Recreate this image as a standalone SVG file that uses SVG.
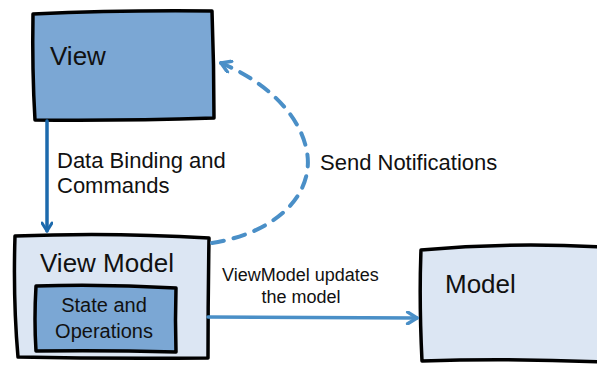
<svg xmlns="http://www.w3.org/2000/svg" width="597" height="365" viewBox="0 0 597 365">
<style>
.box{stroke:#000;stroke-width:3.5;stroke-linejoin:round}
.dark{fill:#7ba7d4}
.light{fill:#dce6f3}
.t{font-family:"Liberation Sans",Arial,sans-serif;fill:#111}
.big{font-size:26px}
.lbl{font-size:22px}
.conn{fill:none;stroke-linecap:round;stroke-linejoin:round}
</style>
<defs>
<marker id="ahDark" viewBox="0 0 12 12" refX="10" refY="6" markerWidth="12" markerHeight="12" markerUnits="userSpaceOnUse" orient="auto">
<path d="M2,1 L10,6 L2,11" fill="none" stroke="#1c6aad" stroke-width="3" stroke-linecap="round" stroke-linejoin="round"/>
</marker>
<marker id="ahLight" viewBox="0 0 12 12" refX="10" refY="6" markerWidth="14" markerHeight="14" markerUnits="userSpaceOnUse" orient="auto">
<path d="M2,1 L10,6 L2,11" fill="none" stroke="#4a8fc7" stroke-width="3" stroke-linecap="round" stroke-linejoin="round"/>
</marker>
</defs>
<g id="view">
<path class="box dark" d="M33,14 Q120,10 212,11 Q214,65 214,118 Q120,121 35,120 Q32,70 33,14 Z"/>
<text class="t big" x="50" y="65">View</text>
</g>
<g id="viewmodel">
<path class="box light" d="M15,236 Q110,232 209,238 Q208,300 208,358 Q110,359 18,357 Q13,300 15,236 Z"/>
<text class="t big" x="40" y="272">View Model</text>
<g id="state">
<path class="box dark" d="M36,286 Q105,284 176,288 Q175,320 176,352 Q105,350 36,351 Q34,320 36,286 Z" stroke-width="2.5"/>
<text class="t" x="104" y="312" text-anchor="middle" font-size="20">State and</text>
<text class="t" x="104" y="338" text-anchor="middle" font-size="20">Operations</text>
</g>
</g>
<g id="model">
<path class="box light" d="M421,250 Q510,242 600,247 L600,362 Q510,358 422,361 Q419,300 421,250 Z"/>
<text class="t big" x="445" y="293">Model</text>
</g>
<g id="connectors">
<path class="conn" d="M47,121 L47,231" stroke="#1c6aad" stroke-width="3.5" marker-end="url(#ahDark)"/>
<path class="conn" d="M212,243 C280,232 314,192 307,152 C300,112 262,80 221,63" stroke="#4a8fc7" stroke-width="4" stroke-dasharray="12,10" marker-end="url(#ahLight)"/>
<path class="conn" d="M208,317 L417,318" stroke="#4a8fc7" stroke-width="3.5" marker-end="url(#ahLight)"/>
</g>
<text class="t lbl" x="57" y="168">Data Binding and</text>
<text class="t lbl" x="57" y="193">Commands</text>
<text class="t lbl" x="320" y="170">Send Notifications</text>
<text class="t" x="222" y="281" font-size="18">ViewModel updates</text>
<text class="t" x="301" y="303" text-anchor="middle" font-size="18">the model</text>
</svg>
